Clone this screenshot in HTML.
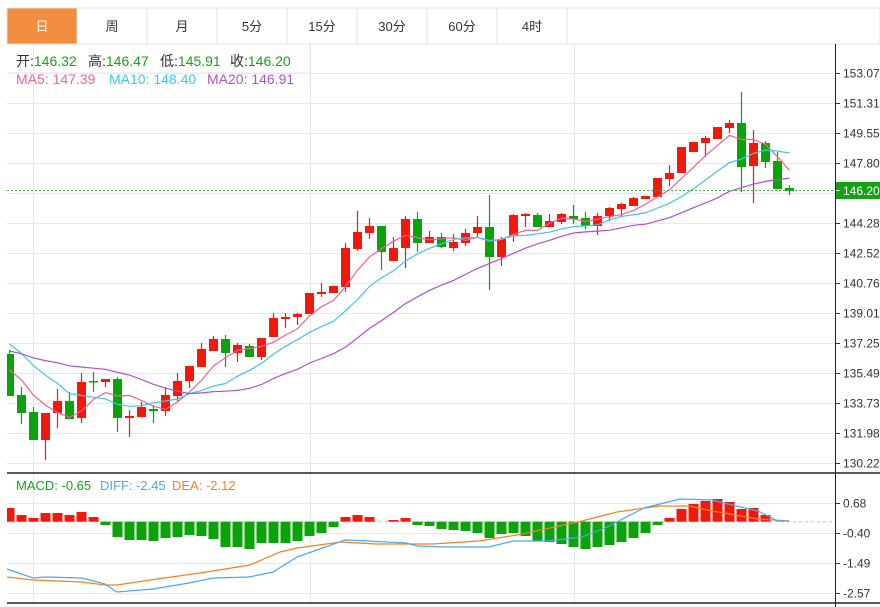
<!DOCTYPE html>
<html><head><meta charset="utf-8"><style>
body{margin:0;background:#fff;width:880px;height:607px;overflow:hidden;font-family:"Liberation Sans","Noto Sans CJK SC",sans-serif;}
svg{position:absolute;left:0;top:0}
</style></head><body>
<svg id="s" width="880" height="607" xmlns="http://www.w3.org/2000/svg" font-family="Liberation Sans, Noto Sans CJK SC, sans-serif">
<rect x="0" y="0" width="880" height="607" fill="#fff"/>
<g id="grid"></g>
<rect x="7" y="8" width="873" height="36" fill="#fff" stroke="#dde2e6"/>
<rect x="7.5" y="8.5" width="69" height="35" fill="#f28c3e"/>
<g stroke="#dde2e6"><line x1="77" y1="8" x2="77" y2="44"/><line x1="147" y1="8" x2="147" y2="44"/><line x1="217" y1="8" x2="217" y2="44"/><line x1="287" y1="8" x2="287" y2="44"/><line x1="357" y1="8" x2="357" y2="44"/><line x1="427" y1="8" x2="427" y2="44"/><line x1="497" y1="8" x2="497" y2="44"/><line x1="567" y1="8" x2="567" y2="44"/></g>
<g font-size="13" text-anchor="middle" fill="#333">
<text x="42" y="31" fill="#fff">日</text><text x="112" y="31">周</text><text x="182" y="31">月</text><text x="252" y="31">5分</text><text x="322" y="31">15分</text><text x="392" y="31">30分</text><text x="462" y="31">60分</text><text x="532" y="31">4时</text>
</g>
<g id="cs"></g>
<g id="ma"></g>
<line x1="7" y1="190.5" x2="835" y2="190.5" stroke="#3cb83c" stroke-dasharray="2,2"/>
<line x1="310" y1="44" x2="310" y2="88" stroke="#dde2e6"/>
<line x1="7" y1="73" x2="310" y2="73" stroke="#e6ebef"/>
<g font-size="14">
<text x="16" y="66" fill="#333">开:<tspan fill="#16a016">146.32</tspan></text>
<text x="88" y="66" fill="#333">高:<tspan fill="#16a016">146.47</tspan></text>
<text x="160" y="66" fill="#333">低:<tspan fill="#16a016">145.91</tspan></text>
<text x="230" y="66" fill="#333">收:<tspan fill="#16a016">146.20</tspan></text>
<text x="16" y="84" fill="#f0609a">MA5: 147.39</text>
<text x="109" y="84" fill="#3cc8e0">MA10: 148.40</text>
<text x="207" y="84" fill="#b050c8">MA20: 146.91</text>
</g>
<g font-size="13">
<text x="16" y="490" fill="#16a016">MACD: -0.65</text>
<text x="100" y="490" fill="#4aa8f0">DIFF: -2.45</text>
<text x="172" y="490" fill="#f58020">DEA: -2.12</text>
</g>
<line x1="7" y1="473" x2="880" y2="473" stroke="#222" stroke-width="1.5"/>
<line x1="7" y1="603" x2="880" y2="603" stroke="#222" stroke-width="1.5"/>
<line x1="835.5" y1="44" x2="835.5" y2="607" stroke="#222"/>
<g id="ax" font-size="12" fill="#333"></g>
<rect x="836" y="182" width="44" height="17" fill="#16a016"/>
<line x1="836" y1="190.5" x2="840" y2="190.5" stroke="#fff"/>
<text x="843" y="195" font-size="12" fill="#fff">146.20</text>
</svg>
<script>
var NS="http://www.w3.org/2000/svg";
function el(p,t,a){var e=document.createElementNS(NS,t);for(var k in a)e.setAttribute(k,a[k]);document.getElementById(p).appendChild(e);return e;}
var py=[73,103,133,163,223,253,283,313,343,373,403,433,463],pl=["153.07","151.31","149.55","147.80","144.28","142.52","140.76","139.01","137.25","135.49","133.73","131.98","130.22"];
py.concat([193]).forEach(function(y){el("grid","line",{x1:7,x2:835,y1:y+.5,y2:y+.5,stroke:"#e3e9ee"});});
[503,533,563,593].forEach(function(y){el("grid","line",{x1:7,x2:835,y1:y+.5,y2:y+.5,stroke:"#e3e9ee"});});
[33,310,574].forEach(function(x){el("grid","line",{x1:x+.5,x2:x+.5,y1:44,y2:603,stroke:"#e3e9ee"});});
py.forEach(function(y,i){el("ax","line",{x1:836,x2:840,y1:y+.5,y2:y+.5,stroke:"#333"});var t=el("ax","text",{x:843,y:y+4.5});t.textContent=pl[i];});
[[503,"0.68"],[533,"-0.40"],[563,"-1.49"],[593,"-2.57"]].forEach(function(a){el("ax","line",{x1:836,x2:840,y1:a[0]+.5,y2:a[0]+.5,stroke:"#333"});var t=el("ax","text",{x:843,y:a[0]+4.5});t.textContent=a[1];});
var C=[["g",354,396,350,396],["g",395,413,387,424],["g",412,440,407,440],["r",413,440,413,460],["r",401,413,389,428],["g",401,419,392,419],["r",382,418,373,423],["g",381,382,372,392],["r",379,382,379,387],["g",379,418,377,432],["r",416,418,410,437],["r",407,417,402,417],["g",409,411,405,423],["r",395,411,387,416],["r",381,396,373,401],["r",366,381,366,388],["r",349,367,343,367],["r",339,351,336,351],["g",339,353,335,367],["r",345,353,343,362],["g",346,357,344,357],["r",338,357,338,360],["r",318,337,313,337],["r",317,319,313,328],["r",314,317,313,325],["r",293,314,293,314],["r",292,294,283,297],["r",286,293,286,293],["r",248,287,243,292],["r",232,249,211,251],["r",226,233,218,239],["g",226,252,226,270],["r",248,261,237,261],["r",219,248,216,268],["g",219,243,212,252],["r",237,243,231,243],["g",237,247,233,248],["r",242,248,234,251],["r",233,243,229,246],["r",227,233,216,238],["g",227,257,195,290],["r",239,257,237,266],["r",215,235,214,242],["r",214,216,213,227],["g",215,227,213,227],["r",221,227,214,227],["r",214,222,213,224],["g",216,219,205,224],["g",218,226,212,229],["r",216,226,213,235],["r",208,216,207,221],["r",204,209,203,216],["r",198,206,197,206],["r",196,199,196,199],["r",178,197,178,197],["r",173,179,165,186],["r",147,173,147,173],["r",142,152,142,152],["r",138,143,136,157],["r",127,139,127,139],["r",123,128,120,133],["g",123,167,92,192],["r",143,166,130,203],["g",143,162,141,168],["g",161,189,152,189],["g",188,191,185,195]];
function X(i){return 9.5+i*12.0;}
var closes=[];
C.forEach(function(c,i){var col=c[0]=="r"?"#f2190c":"#0aa30a";var x=X(i);
el("cs","line",{x1:x,x2:x,y1:c[3],y2:c[4],stroke:col,"stroke-width":1.2});
el("cs","rect",{x:Math.max(7,x-4.5),y:c[1],width:x-4.5<7?x+4.5-7:9,height:Math.max(1.5,c[2]-c[1]),fill:col});
closes.push(c[0]=="r"?c[1]:c[2]);});
var pad=[];for(var k=0;k<10;k++)pad.push(358);for(k=0;k<5;k++)pad.push(318);for(k=0;k<4;k++)pad.push(363.5);
var all=pad.concat(closes);
function ma(n,col){var pts=[];for(var i=0;i<closes.length;i++){var s=0;for(var j=0;j<n;j++)s+=all[i+19-j];pts.push(X(i)+","+(s/n).toFixed(1));}
el("ma","polyline",{points:pts.join(" "),fill:"none",stroke:col,"stroke-width":1.2});}
ma(5,"#f0609a");ma(10,"#3cc8e0");ma(20,"#b050c8");
var H=[508,515,518,513,513,515,512,517,525,537,540,540,541,538,537,535,536,539,547,547,549,543,543,543,541,536,533,527,517,515,517,521,520,518,525,526,529,530,531,533,538,534,533,536,541,542,544,547,549,547,545,542,538,533,525,518,509,504,501,499,502,509,508,515,521,522];
var z=521.7;
el("grid","line",{x1:7,x2:835,y1:z,y2:z,stroke:"#9ac8d8","stroke-dasharray":"3,3"});
H.forEach(function(v,i){var x=X(i);var col=v<z?"#f2190c":"#0aa30a";var y0=Math.min(v,z),h=Math.abs(v-z);if(h<0.8)return;
el("cs","rect",{x:Math.max(7,x-5),y:y0,width:x-5<7?x+5-7:10,height:h,fill:col});});
var D=[[7,569],[33,578],[45,577],[82,578],[105,584],[117,592],[153,589],[189,583],[213,578],[249,577],[273,572],[297,557],[345,540],[368,541],[406,543],[418,546],[445,547],[489,547],[513,541],[548,541],[582,537],[605,528],[644,508],[680,499],[712,500],[732,505],[758,511],[778,521],[789,521]];
var E=[[7,577],[33,580],[82,582],[105,585],[117,585],[150,580],[200,573],[250,565],[280,552],[297,548],[341,542],[376,544],[433,544],[479,541],[517,535],[578,522],[617,512],[659,506],[689,506],[712,511],[758,519],[789,521]];
el("ma","polyline",{points:E.join(" "),fill:"none",stroke:"#f58020","stroke-width":1.2});
el("ma","polyline",{points:D.join(" "),fill:"none",stroke:"#4aa8f0","stroke-width":1.2});
</script>
</body></html>
